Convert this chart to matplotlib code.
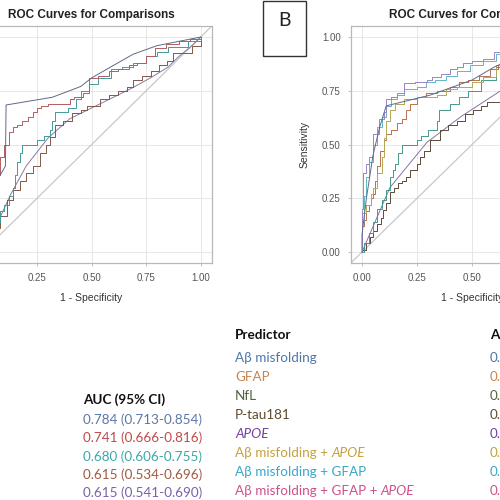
import numpy as np
import matplotlib
matplotlib.use("Agg")
import matplotlib.pyplot as plt
from matplotlib.patches import Rectangle

plt.rcParams['font.family'] = ['Liberation Sans', 'DejaVu Sans']

# ---- panel A curves (fpr, tpr) ----
a_blue_x = [0, 0.02, 0.105, 0.108, 0.32, 0.45, 0.50, 0.69, 0.80, 0.95, 1.0]
a_blue_y = [0, 0.25, 0.40, 0.684, 0.72, 0.77, 0.81, 0.92, 0.96, 0.99, 1.0]

a_red_x = [0, 0.02, 0.04, 0.06, 0.08, 0.10, 0.12, 0.14, 0.16, 0.18, 0.21, 0.23, 0.25, 0.27, 0.30,
           0.40, 0.42, 0.46, 0.49, 0.53, 0.58, 0.62, 0.67, 0.71, 0.75, 0.79, 0.84, 0.90, 0.95, 1.0]
a_red_y = [0.06, 0.18, 0.28, 0.36, 0.44, 0.50, 0.56, 0.58, 0.59, 0.61, 0.63, 0.65, 0.67, 0.68, 0.69,
           0.71, 0.72, 0.74, 0.81, 0.82, 0.84, 0.85, 0.87, 0.88, 0.91, 0.95, 0.97, 0.98, 0.99, 1.0]

a_teal_x = [0, 0.02, 0.04, 0.06, 0.08, 0.10, 0.12, 0.14, 0.15, 0.16, 0.17, 0.18, 0.25, 0.28, 0.31,
            0.32, 0.33, 0.39, 0.43, 0.45, 0.49, 0.53, 0.59, 0.64, 0.69, 0.75, 0.80, 0.85, 0.94, 1.0]
a_teal_y = [0.02, 0.06, 0.10, 0.14, 0.19, 0.22, 0.26, 0.30, 0.36, 0.42, 0.46, 0.50, 0.52, 0.54, 0.57,
            0.61, 0.65, 0.67, 0.71, 0.75, 0.78, 0.81, 0.85, 0.86, 0.88, 0.91, 0.93, 0.955, 0.98, 1.0]

a_brown_x = [0, 0.02, 0.05, 0.08, 0.11, 0.14, 0.17, 0.20, 0.23, 0.265, 0.29, 0.31, 0.33, 0.37, 0.41,
             0.45, 0.48, 0.54, 0.58, 0.62, 0.66, 0.69, 0.73, 0.77, 0.81, 0.845, 0.875, 0.96, 1.0]
a_brown_y = [0.02, 0.06, 0.11, 0.17, 0.24, 0.29, 0.33, 0.37, 0.40, 0.46, 0.50, 0.535, 0.59, 0.61, 0.645,
             0.66, 0.68, 0.71, 0.73, 0.75, 0.77, 0.80, 0.82, 0.84, 0.87, 0.89, 0.925, 0.96, 1.0]

a_purple_x = [0, 0.08, 0.13, 0.20, 0.30, 0.40, 0.54, 0.68, 0.77, 0.85, 0.90, 0.96, 1.0]
a_purple_y = [0, 0.16, 0.27, 0.40, 0.53, 0.62, 0.69, 0.76, 0.81, 0.86, 0.91, 0.96, 1.0]

# ---- panel B curves ----
b_abeta_x = [0, 0.0, 0.02, 0.05, 0.08, 0.11, 0.31, 0.50, 0.60, 0.80, 0.95, 1.0]
b_abeta_y = [0, 0.08, 0.25, 0.45, 0.58, 0.68, 0.73, 0.80, 0.86, 0.95, 0.99, 1.0]

b_gfap_x = [0, 0.0, 0.01, 0.02, 0.03, 0.04, 0.05, 0.06, 0.07, 0.08, 0.10, 0.11, 0.13, 0.16, 0.18, 0.20,
            0.22, 0.25, 0.29, 0.34, 0.40, 0.44, 0.48, 0.53, 0.58, 0.62, 0.68, 0.75, 0.82, 0.90, 0.96, 1.0]
b_gfap_y = [0, 0.12, 0.15, 0.19, 0.22, 0.25, 0.27, 0.33, 0.40, 0.47, 0.52, 0.55, 0.57, 0.60, 0.62, 0.66,
            0.69, 0.72, 0.74, 0.75, 0.77, 0.79, 0.80, 0.82, 0.85, 0.87, 0.89, 0.91, 0.94, 0.97, 0.99, 1.0]

b_nfl_x = [0, 0.01, 0.03, 0.05, 0.07, 0.09, 0.11, 0.127, 0.14, 0.15, 0.165, 0.18, 0.25, 0.27, 0.30,
           0.34, 0.35, 0.40, 0.44, 0.48, 0.54, 0.61, 0.68, 0.75, 0.83, 0.90, 0.96, 1.0]
b_nfl_y = [0, 0.04, 0.09, 0.14, 0.20, 0.24, 0.29, 0.35, 0.38, 0.41, 0.46, 0.50, 0.52, 0.54, 0.57,
           0.61, 0.66, 0.69, 0.72, 0.75, 0.80, 0.86, 0.89, 0.92, 0.95, 0.97, 0.99, 1.0]

b_ptau_x = [0, 0.02, 0.036, 0.05, 0.07, 0.085, 0.097, 0.11, 0.127, 0.145, 0.165, 0.18, 0.20, 0.22, 0.25,
            0.265, 0.28, 0.31, 0.355, 0.39, 0.43, 0.47, 0.505, 0.54, 0.57, 0.627, 0.70, 0.78, 0.86, 0.93, 1.0]
b_ptau_y = [0.01, 0.04, 0.07, 0.10, 0.13, 0.16, 0.195, 0.23, 0.28, 0.30, 0.32, 0.33, 0.35, 0.38, 0.41,
            0.44, 0.47, 0.52, 0.57, 0.59, 0.61, 0.64, 0.66, 0.68, 0.70, 0.75, 0.80, 0.86, 0.91, 0.96, 1.0]

b_apoe_x = [0, 0.127, 0.295, 0.45, 0.63, 0.80, 1.0]
b_apoe_y = [0, 0.30, 0.51, 0.63, 0.75, 0.86, 1.0]

b_ab_apoe_x = [0, 0.0, 0.02, 0.04, 0.05, 0.07, 0.09, 0.10, 0.11, 0.127, 0.15, 0.19, 0.25, 0.34, 0.38,
               0.43, 0.50, 0.55, 0.61, 0.68, 0.76, 0.85, 0.93, 1.0]
b_ab_apoe_y = [0, 0.18, 0.22, 0.27, 0.30, 0.37, 0.44, 0.53, 0.61, 0.66, 0.69, 0.71, 0.72, 0.73, 0.76,
               0.77, 0.79, 0.815, 0.87, 0.90, 0.93, 0.96, 0.99, 1.0]

b_ab_gfap_x = [0, 0.0, 0.01, 0.02, 0.03, 0.05, 0.07, 0.09, 0.11, 0.13, 0.16, 0.19, 0.25, 0.29, 0.33,
               0.38, 0.43, 0.49, 0.55, 0.61, 0.70, 0.80, 0.90, 1.0]
b_ab_gfap_y = [0, 0.15, 0.26, 0.35, 0.42, 0.50, 0.58, 0.63, 0.68, 0.71, 0.73, 0.76, 0.77, 0.79, 0.80,
               0.82, 0.84, 0.87, 0.89, 0.92, 0.95, 0.97, 0.99, 1.0]

b_triple_x = [0, 0.0, 0.005, 0.02, 0.03, 0.05, 0.075, 0.10, 0.11, 0.13, 0.16, 0.19, 0.24, 0.295, 0.32,
              0.36, 0.40, 0.43, 0.46, 0.50, 0.55, 0.60, 0.68, 0.76, 0.85, 0.93, 1.0]
b_triple_y = [0, 0.2, 0.37, 0.41, 0.44, 0.55, 0.62, 0.65, 0.71, 0.72, 0.74, 0.785, 0.79, 0.80, 0.815,
              0.83, 0.85, 0.86, 0.88, 0.89, 0.90, 0.93, 0.96, 0.97, 0.98, 0.99, 1.0]

# ---- text tables ----
auc_a = ["0.784 (0.713-0.854)", "0.741 (0.666-0.816)", "0.680 (0.606-0.755)",
         "0.615 (0.534-0.696)", "0.615 (0.541-0.690)"]
auc_a_colors = ['#5a78a8', '#c04848', '#3aa8a8', '#a05a40', '#7a60a8']

predictors = [[("Aβ misfolding", False)],
              [("GFAP", False)],
              [("NfL", False)],
              [("P-tau181", False)],
              [("APOE", True)],
              [("Aβ misfolding + ", False), ("APOE", True)],
              [("Aβ misfolding + GFAP", False)],
              [("Aβ misfolding + GFAP + ", False), ("APOE", True)]]
pred_colors = ['#4f76a8', '#c8834f', '#50623e', '#5e4a30', '#7340a0', '#c4a040', '#38a8c8', '#d0508c']
auc_b = ["0."] * 8

W = H = 500
fig = plt.figure(figsize=(5, 5), dpi=100)


def px_axes(left, top, right, bottom):
    return fig.add_axes([left / W, 1 - bottom / H, (right - left) / W, (bottom - top) / H])


def style(ax):
    ax.set_xlim(-0.05, 1.05)
    ax.set_ylim(-0.05, 1.05)
    ticks = [0, 0.25, 0.5, 0.75, 1.0]
    ax.set_xticks(ticks)
    ax.set_yticks(ticks)
    ax.set_xticklabels(["0.00", "0.25", "0.50", "0.75", "1.00"])
    ax.set_yticklabels(["0.00", "0.25", "0.50", "0.75", "1.00"])
    ax.grid(color='#e3e3e3', lw=0.6)
    ax.set_axisbelow(True)
    for s in ax.spines.values():
        s.set_color('#b8b8b8')
        s.set_linewidth(0.9)
    ax.tick_params(colors='#b8b8b8', labelcolor='#555555', labelsize=7, length=2.5, width=0.6, pad=5)
    ax.axline((0, 0), slope=1, color='#c8c8c8', lw=0.9, zorder=1)
    ax.set_xlabel("1 - Specificity", fontsize=7.5, color='#333333', labelpad=7)
    ax.set_title("ROC Curves for Comparisons", fontsize=8.5, fontweight='bold', color='#222222', pad=6)


lw = 0.7
axA = px_axes(-28.4, 26.3, 211.6, 262.8)
style(axA)
axA.plot(a_purple_x, a_purple_y, color='#8a7aa0', lw=lw)
axA.plot(a_brown_x, a_brown_y, color='#80584a', lw=lw, drawstyle='steps-post')
axA.plot(a_teal_x, a_teal_y, color='#449a9a', lw=lw, drawstyle='steps-post')
axA.plot(a_red_x, a_red_y, color='#b06060', lw=lw, drawstyle='steps-post')
axA.plot(a_blue_x, a_blue_y, color='#5e6a88', lw=lw)

axB = px_axes(351, 26.3, 593, 262.8)
style(axB)
axB.set_ylabel("Sensitivity", fontsize=7.5, color='#333333', labelpad=9)
axB.plot(b_apoe_x, b_apoe_y, color='#8a74a4', lw=lw)
axB.plot(b_ptau_x, b_ptau_y, color='#5c4a3a', lw=lw, drawstyle='steps-post')
axB.plot(b_nfl_x, b_nfl_y, color='#46988c', lw=lw, drawstyle='steps-post')
axB.plot(b_gfap_x, b_gfap_y, color='#b8704e', lw=lw, drawstyle='steps-post')
axB.plot(b_ab_apoe_x, b_ab_apoe_y, color='#b4a858', lw=lw, drawstyle='steps-post')
axB.plot(b_ab_gfap_x, b_ab_gfap_y, color='#62b4cc', lw=lw, drawstyle='steps-post')
axB.plot(b_triple_x, b_triple_y, color='#9c84c4', lw=lw, drawstyle='steps-post')
axB.plot(b_abeta_x, b_abeta_y, color='#5e6a8c', lw=lw)

# panel letter box
fig.patches.append(Rectangle((263 / W, 1 - 56 / H), 43 / W, 55 / H, transform=fig.transFigure,
                             fill=False, edgecolor='#333333', lw=1.0))
fig.text(284.5 / W, 1 - 21 / H, "B", fontsize=14, ha='center', va='center',
         family=['Lato', 'DejaVu Sans'], color='#222222')

# ---- bottom tables ----
tfam = ['Lato', 'DejaVu Sans']
tsize = 9.7
fig.text(83 / W, 1 - 400 / H, "AUC (95% CI)", fontsize=tsize, fontweight='bold', family=tfam,
         color='#111111', va='center')
for i, (s, c) in enumerate(zip(auc_a, auc_a_colors)):
    fig.text(83 / W, 1 - (420 + i * 18.2) / H, s, fontsize=tsize, family=tfam, color=c, va='center')

fig.text(235 / W, 1 - 335 / H, "Predictor", fontsize=tsize, fontweight='bold', family=tfam,
         color='#111111', va='center')
fig.text(490 / W, 1 - 335 / H, "AUC (95% CI)", fontsize=tsize, fontweight='bold', family=tfam,
         color='#111111', va='center')

fig.canvas.draw()
renderer = fig.canvas.get_renderer()
for i, (pieces, c) in enumerate(zip(predictors, pred_colors)):
    y = 1 - (358 + i * 19) / H
    x = 235 / W
    for s, it in pieces:
        t = fig.text(x, y, s, fontsize=tsize, family=tfam, color=c, va='center',
                     style='italic' if it else 'normal')
        bb = t.get_window_extent(renderer)
        x += bb.width / W
    fig.text(490 / W, y, auc_b[i], fontsize=tsize, family=tfam, color=c, va='center')

fig.savefig("out.png", dpi=100)
